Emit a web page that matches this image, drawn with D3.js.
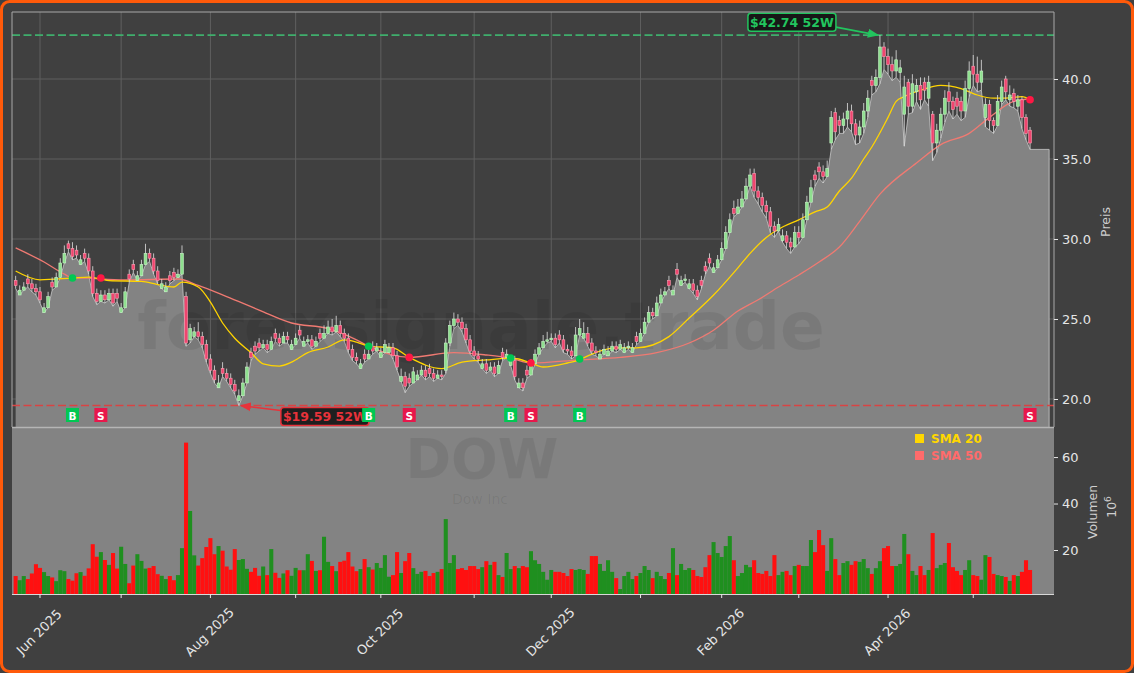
<!DOCTYPE html>
<html><head><meta charset="utf-8">
<script src="https://cdn.jsdelivr.net/npm/d3@7"></script>
<style>html,body{margin:0;padding:0;background:#404040;} svg{display:block;font-family:"DejaVu Sans",sans-serif;}</style>
</head><body><svg id="c" width="1134" height="673"></svg>
<script>
// ---------------- DATA ----------------
const startDate = "2025-05-22", endDate = "2026-05-21";
const holidays = ["2025-05-26","2025-06-19","2025-07-04","2025-09-01","2025-11-27","2025-12-25","2026-01-01","2026-01-19","2026-02-16","2026-04-03"];

const openP = [27.4,26.5,26.8,27.5,27.2,26.9,26.7,25.4,25.7,27.3,
27.0,27.6,28.5,29.7,29.4,29.3,28.4,29.1,28.8,28.0,
26.6,26.1,26.5,26.2,26.6,26.6,25.4,25.7,27.8,28.4,
27.4,27.7,28.4,29.1,28.8,28.0,26.9,26.7,27.7,27.9,
27.6,27.8,26.4,23.7,23.9,24.2,23.9,23.4,22.5,21.8,
20.7,21.9,21.6,21.3,20.9,19.9,20.2,21.0,22.9,23.3,
23.5,23.2,23.4,23.1,24.1,23.8,23.5,23.9,23.1,23.4,
24.3,23.3,23.6,23.7,23.3,24.1,23.8,24.1,24.5,24.2,
24.6,24.1,23.8,23.1,22.6,21.9,22.8,22.5,23.3,23.0,
22.6,22.9,22.9,23.2,22.7,21.1,21.4,21.3,21.0,21.2,
21.5,21.8,21.9,21.6,21.3,21.5,21.8,23.5,24.6,25.0,
24.8,24.4,23.7,23.0,22.7,21.9,22.2,21.8,22.0,21.6,
22.9,22.6,22.1,22.4,20.7,21.0,21.8,21.5,22.2,22.8,
23.2,23.6,23.7,23.8,24.0,23.7,23.1,23.0,22.7,24.0,
23.8,24.1,23.5,23.0,22.5,22.8,22.7,23.0,23.3,23.1,
22.9,23.2,22.9,23.9,23.6,24.1,24.8,25.4,25.2,26.0,
26.5,27.4,26.5,28.1,27.1,27.4,26.9,27.2,26.8,27.4,
28.3,28.8,27.9,28.2,28.7,29.4,30.4,31.9,31.6,32.0,
32.5,33.3,34.1,33.0,32.6,32.1,31.7,30.8,30.5,29.9,
30.2,29.8,29.5,30.4,30.1,31.2,32.3,34.0,34.5,34.2,
33.9,36.0,37.9,37.4,37.1,37.5,38.0,37.2,36.5,37.0,
38.0,39.9,39.6,40.1,42.0,41.4,40.9,40.5,40.4,37.8,
39.8,38.3,39.2,39.6,39.8,38.8,37.8,36.0,36.8,37.8,
39.2,38.6,38.8,38.6,38.0,39.4,40.8,40.3,39.8,37.6,
38.4,37.4,37.1,38.6,40.0,38.7,39.1,38.3,38.7,37.6,36.8];

const highP = [27.7,27.1,27.3,27.8,27.5,27.2,27.0,26.0,26.7,27.6,
27.9,28.8,29.6,29.9,29.8,29.6,29.0,29.4,29.1,28.3,
26.9,26.8,26.8,26.9,26.9,26.9,26.0,27.0,28.1,28.7,
28.0,28.7,29.7,29.4,29.1,28.3,27.5,27.3,28.0,28.2,
28.1,29.6,26.7,24.7,24.5,24.8,24.2,23.7,22.8,22.1,
21.5,22.3,21.9,21.6,21.2,20.6,21.3,22.3,23.2,23.6,
23.8,23.7,23.7,23.9,24.4,24.1,24.2,24.2,23.7,24.1,
24.6,23.9,24.0,24.0,23.9,24.4,24.6,24.9,25.0,25.2,
24.9,24.4,24.1,23.4,22.9,22.5,23.1,23.1,23.6,23.5,
23.2,23.7,23.5,23.5,23.0,21.9,21.7,21.6,22.0,21.8,
22.1,22.1,22.2,21.9,21.8,21.8,23.8,24.9,25.4,25.3,
25.1,24.7,24.0,23.3,23.0,22.5,22.5,22.3,22.3,22.4,
23.2,23.1,22.7,22.7,21.3,21.3,22.1,22.5,23.1,23.5,
24.0,24.2,24.1,24.1,24.3,24.0,23.4,23.3,24.5,25.0,
24.8,24.5,23.8,23.3,23.1,23.4,23.3,23.6,23.6,23.7,
23.5,23.6,23.5,24.2,24.4,25.1,25.8,25.7,26.4,26.9,
27.0,27.7,27.1,28.5,27.7,27.8,27.5,27.5,27.1,27.7,
28.6,29.1,28.5,29.0,29.8,30.8,31.6,32.4,32.5,33.0,
33.8,34.4,34.4,33.3,32.9,32.4,32.0,31.1,31.3,30.6,
30.5,30.1,30.8,30.8,31.6,32.7,33.7,34.3,34.8,34.6,
34.9,38.0,38.2,37.7,37.9,38.5,38.4,37.5,37.4,38.5,
39.3,40.2,40.6,42.74,42.3,41.9,41.4,41.8,41.2,40.2,
40.0,40.3,40.0,40.1,40.1,40.2,38.0,37.2,38.2,39.3,
39.8,38.9,39.2,38.9,39.9,41.1,41.5,41.4,41.2,38.8,
38.7,37.6,39.0,39.9,40.2,39.6,39.4,39.0,38.9,37.8,37.0];

const lowP = [26.9,26.5,26.8,27.0,26.7,26.5,26.0,25.4,25.7,26.8,
27.0,27.6,28.5,29.2,28.7,28.8,28.4,28.6,27.8,26.4,
25.9,26.1,26.0,26.2,25.8,26.1,25.4,25.7,27.3,27.9,
27.4,27.7,28.4,28.6,27.8,27.2,26.9,26.7,27.2,27.4,
27.6,27.8,23.3,23.5,23.9,23.7,23.2,22.3,21.6,21.0,
20.7,21.4,21.1,20.7,20.3,19.59,20.2,21.0,22.4,22.8,
23.0,23.2,22.9,23.1,23.6,23.3,23.5,23.5,23.1,23.4,
23.8,23.3,23.5,23.1,23.3,23.6,23.8,24.1,24.0,24.2,
23.9,23.6,22.9,22.4,22.2,21.9,22.3,22.5,22.8,23.0,
22.6,22.9,22.9,22.5,21.8,21.1,20.4,20.8,21.0,21.2,
21.5,21.2,21.4,21.1,21.3,21.2,21.6,23.3,24.4,24.6,
24.2,23.5,22.8,22.5,22.3,21.9,21.6,21.8,21.4,21.6,
22.4,22.6,22.1,21.2,20.7,20.5,21.3,21.5,22.2,22.8,
23.2,23.5,23.6,23.2,23.5,22.9,22.8,22.5,22.7,24.0,
23.8,23.3,22.8,22.7,22.5,22.8,22.7,23.0,22.9,23.1,
22.9,23.1,22.9,23.4,23.6,24.1,24.8,25.0,25.2,26.0,
26.5,26.9,26.5,27.6,27.1,27.3,26.9,26.6,26.2,26.9,
27.8,28.3,27.9,28.2,28.7,29.4,30.4,31.4,31.6,32.0,
32.5,33.3,32.6,32.2,31.7,31.3,30.4,30.1,30.5,29.8,
29.4,29.1,29.5,29.7,30.1,31.2,32.3,33.3,33.8,33.5,
33.9,35.6,36.2,36.6,36.6,37.0,36.7,35.9,36.0,36.6,
37.6,39.0,39.2,39.7,40.6,40.3,39.9,40.1,39.8,35.8,
37.8,37.9,38.6,38.1,38.7,38.3,34.9,35.4,36.3,37.3,
38.0,37.5,37.8,37.4,37.6,38.9,39.6,39.2,39.3,37.0,
36.8,36.6,37.1,38.4,38.7,38.3,38.2,38.0,36.9,36.2,35.6];

const closeP = [27.1,26.8,27.0,27.2,26.9,26.7,26.2,25.7,26.4,27.0,
27.6,28.5,29.1,29.4,28.9,29.0,28.7,28.8,28.0,26.6,
26.1,26.5,26.2,26.6,26.0,26.3,25.7,26.7,27.5,28.1,
27.7,28.4,29.1,28.8,28.0,27.4,27.2,27.0,27.4,27.6,
27.8,29.1,23.5,24.4,24.2,23.9,23.4,22.5,21.8,21.2,
21.0,21.6,21.3,20.9,20.5,20.2,21.0,22.0,22.6,23.0,
23.2,23.4,23.1,23.6,23.8,23.5,23.9,23.7,23.4,23.8,
24.0,23.6,23.7,23.3,23.6,23.8,24.1,24.5,24.2,24.6,
24.1,23.8,23.1,22.6,22.4,22.2,22.5,22.8,23.0,23.2,
22.9,23.4,23.2,22.7,22.0,21.4,20.8,21.0,21.7,21.5,
21.8,21.4,21.6,21.3,21.5,21.4,23.5,24.6,25.0,24.8,
24.4,23.7,23.0,22.7,22.5,22.2,21.8,22.0,21.6,22.1,
22.6,22.8,22.4,21.4,21.0,20.7,21.5,22.2,22.8,23.2,
23.6,23.7,23.8,23.4,23.7,23.1,23.0,22.7,24.0,24.4,
24.1,23.5,23.0,22.9,22.8,23.1,23.0,23.3,23.1,23.4,
23.2,23.3,23.2,23.6,24.1,24.8,25.4,25.2,26.0,26.5,
26.7,27.1,26.8,27.8,27.4,27.5,27.2,26.8,26.4,27.1,
28.0,28.5,28.2,28.7,29.4,30.4,31.2,31.6,32.0,32.5,
33.3,34.0,33.0,32.6,32.1,31.7,30.8,30.5,30.9,30.2,
29.8,29.5,30.4,30.1,31.2,32.3,33.2,33.7,34.2,33.9,
34.4,37.6,36.7,37.1,37.5,38.0,37.2,36.5,37.0,38.0,
38.8,39.6,40.1,42.0,41.4,40.9,40.5,41.2,40.7,39.5,
38.3,39.7,39.6,38.7,39.3,39.8,36.0,36.8,37.8,38.8,
38.6,38.1,38.3,38.0,39.4,40.5,40.3,39.8,40.5,38.4,
37.4,37.1,38.6,39.5,39.2,39.0,38.6,38.7,37.6,36.6,36.0];

const volumeM = [8.8,7.0,8.8,7.5,9.9,13.9,12.3,10.5,8.8,8.2,
6.6,11.3,10.9,7.5,6.8,10.0,10.5,8.9,12.1,22.5,
17.1,19.1,15.7,13.6,18.7,12.0,21.4,14.0,5.7,13.3,
18.2,15.3,12.0,12.3,13.1,9.6,8.9,7.5,8.8,7.0,
9.2,20.8,66.2,36.8,17.7,13.3,16.5,21.3,25.1,18.2,
21.7,19.7,12.9,11.5,20.4,15.7,16.1,11.9,10.6,12.3,
8.9,12.9,9.2,20.4,10.2,8.0,9.9,11.3,8.9,12.3,
11.3,11.3,18.2,15.3,11.0,11.3,25.7,14.9,13.1,10.9,
14.9,15.4,19.1,12.9,10.9,11.8,16.1,12.6,11.6,14.4,
12.3,17.8,8.5,9.2,19.1,10.1,15.2,18.7,12.2,9.7,
10.6,11.0,8.8,10.1,10.6,11.8,33.3,14.4,17.8,11.8,
12.2,11.4,13.1,13.1,11.8,12.6,15.2,13.6,14.9,9.2,
8.4,18.7,11.8,13.1,12.2,13.1,12.6,19.5,15.6,14.0,
10.6,7.2,11.4,10.6,10.6,10.1,8.8,11.8,11.4,11.8,
11.4,9.7,17.4,17.4,14.0,11.0,15.6,10.6,7.9,3.2,
8.8,10.6,7.5,8.8,10.1,13.1,11.4,7.9,10.6,8.8,
7.5,10.1,20.8,9.2,14.0,11.4,12.2,11.4,8.8,8.4,
12.6,17.8,23.4,18.7,17.0,21.7,26.0,15.6,8.8,10.1,
13.6,12.6,15.6,10.1,9.7,11.0,8.8,17.8,9.2,10.6,
11.0,9.2,13.1,13.6,13.1,13.1,24.3,19.1,28.6,22.1,
11.0,25.1,16.1,9.2,14.4,15.2,13.6,15.2,14.9,16.1,
12.2,9.7,12.2,15.2,20.8,21.7,13.1,13.1,14.0,26.9,
18.2,11.0,9.2,13.1,9.2,11.4,27.3,12.2,13.6,14.4,
23.0,12.6,11.0,9.2,11.4,15.6,9.2,8.8,7.2,17.8,
17.0,9.7,9.2,8.8,8.4,6.7,9.2,8.8,10.6,15.6,11.4];

// moving averages at these bar indices
const sma20Idx = [0,6,14,18,21,23,31,35,39,41,45,48,51,54,58,61,65,68,72,77,81,84,87,93,97,105,110,116,122,124,127,130,136,139,141,148,153,161,166,172,178,181,185,189,193,197,200,203,206,209,211,215,217,219,223,228,233,237,241,244,248,250];
const sma20Val = [28.0,27.45,27.56,27.62,27.5,27.4,27.35,27.15,27.0,27.3,27.0,26.06,24.75,23.8,22.9,22.2,22.06,22.3,22.9,23.25,23.7,23.56,23.3,23.2,22.6,21.9,22.3,22.44,22.55,22.5,22.25,22.0,22.25,22.45,22.7,23.2,23.2,23.9,25.06,26.5,28.2,29.1,30.1,30.75,31.2,31.7,32.0,33.0,33.8,35.0,35.75,37.6,38.6,38.9,39.3,39.6,39.4,39.0,38.8,38.8,38.9,38.7];
const sma50Idx = [0,7,12,14,18,21,27,40,45,52,60,68,77,84,87,97,108,116,122,127,139,149,158,166,172,178,183,188,193,198,203,208,213,222,228,235,240,246,250];
const sma50Val = [29.44,28.56,27.8,27.56,27.56,27.5,27.44,27.5,27.1,26.4,25.56,24.75,24.4,23.7,23.3,22.6,22.9,22.75,22.55,22.25,22.45,22.6,22.9,23.5,24.3,25.5,26.2,27.0,27.75,28.56,29.5,31.1,32.8,34.75,35.9,36.6,37.6,38.6,38.75];

// crossover signals
const signalIdx = [14,21,87,97,122,127,139,250];
const signalType = ["B","S","B","S","B","S","B","S"];
const signalPrice = [27.56,27.56,23.3,22.6,22.56,22.25,22.5,38.7];

const priceTicks = [20,25,30,35,40];
const volumeTicks = [20,40,60];

// ---------------- LAYOUT ----------------
const svg = d3.select("#c");
const W = 1134, H = 673;
const L = 12, R = 1054, PT = 12, PB = 427, VT = 428, VB = 594;
const AREA_EXT = 4.7; // fill continues past the last bar

const parse = d3.utcParse("%Y-%m-%d"), fmt = d3.utcFormat("%Y-%m-%d");
const dates = d3.utcDay.range(parse(startDate), d3.utcDay.offset(parse(endDate), 1))
  .filter(d => d.getUTCDay() % 6 !== 0 && !holidays.includes(fmt(d)));
const n = dates.length;
const bars = dates.map((d, i) => ({i, d, o: openP[i], h: highP[i], l: lowP[i], c: closeP[i], v: volumeM[i]}));

const x = d3.scaleLinear().domain([-0.9, 255.9]).range([L, R]);
const y = d3.scaleLinear().domain([18.25, 44.1875]).range([PB, PT]);
const yv = d3.scaleLinear().domain([1.07, 72.5]).range([VB, VT]);

const defs = svg.append("defs");
defs.append("clipPath").attr("id", "cp").append("rect").attr("x", L).attr("y", PT).attr("width", R - L).attr("height", PB - PT);
defs.append("clipPath").attr("id", "cv").append("rect").attr("x", L).attr("y", VT).attr("width", R - L).attr("height", VB - VT);
function arrow(id, col) {
  defs.append("marker").attr("id", id).attr("viewBox", "0 0 10 10").attr("refX", 9).attr("refY", 5)
    .attr("markerWidth", 7).attr("markerHeight", 7).attr("orient", "auto-start-reverse")
    .append("path").attr("d", "M0,1 L10,5 L0,9 z").attr("fill", col);
}
arrow("ag", "#22c55e"); arrow("ar", "#e8323a");

// figure background + border
svg.append("rect").attr("x", 0).attr("y", 0).attr("width", W).attr("height", H).attr("fill", "#404040");
svg.append("rect").attr("x", 1.5).attr("y", 1.5).attr("width", W - 3).attr("height", H - 3).attr("rx", 8)
  .attr("fill", "none").attr("stroke", "#ff5a0a").attr("stroke-width", 3);

// month ticks
const monthIdx = bars.filter((b, i) => i > 0 && b.d.getUTCMonth() !== bars[i - 1].d.getUTCMonth()).map(b => b.i);

// ---------------- PRICE PANEL ----------------
const gp = svg.append("g").attr("clip-path", "url(#cp)");
gp.selectAll("line.vg").data(monthIdx).join("line").attr("class", "vg")
  .attr("x1", d => x(d)).attr("x2", d => x(d)).attr("y1", PT).attr("y2", PB).attr("stroke", "#5f5f5f").attr("stroke-width", 1);
gp.selectAll("line.hg").data(priceTicks).join("line").attr("class", "hg")
  .attr("x1", L).attr("x2", R).attr("y1", d => y(d)).attr("y2", d => y(d)).attr("stroke", "#5f5f5f").attr("stroke-width", 1);

// area under the lows
const areaPts = bars.map(b => [b.i, b.l]).concat([[n - 1 + AREA_EXT, lowP[n - 1]]]);
gp.append("path").datum(areaPts)
  .attr("d", d3.area().x(d => x(d[0])).y0(PB).y1(d => y(d[1])))
  .attr("fill", "#838383");
gp.append("path").datum(areaPts.concat([[n - 1 + AREA_EXT, 18.25]]))
  .attr("d", d3.line().x(d => x(d[0])).y(d => y(d[1])))
  .attr("fill", "none").attr("stroke", "#cfcfcf").attr("stroke-width", 1).attr("stroke-opacity", 0.75);

// watermark
gp.append("text").attr("x", 481).attr("y", 349).attr("text-anchor", "middle")
  .attr("font-size", 66).attr("font-weight", "bold").attr("fill", "#000").attr("fill-opacity", 0.07)
  .text("forexsignale.trade");

// 52W lines
const hi = d3.max(highP), lo = d3.min(lowP);
const hiI = highP.indexOf(hi), loI = lowP.indexOf(lo);
gp.append("line").attr("x1", L).attr("x2", R).attr("y1", y(hi)).attr("y2", y(hi))
  .attr("stroke", "#3fae6c").attr("stroke-width", 1.6).attr("stroke-dasharray", "8,3.5");
gp.append("line").attr("x1", L).attr("x2", R).attr("y1", y(lo)).attr("y2", y(lo))
  .attr("stroke", "#d94343").attr("stroke-width", 1.6).attr("stroke-dasharray", "8,3.5");

// SMA lines
const smaLine = d3.line().x(d => x(d[0])).y(d => y(d[1])).curve(d3.curveMonotoneX);
gp.append("path").datum(sma50Idx.map((k, j) => [k, sma50Val[j]])).attr("d", smaLine)
  .attr("fill", "none").attr("stroke", "#f07a72").attr("stroke-width", 1.3);
gp.append("path").datum(sma20Idx.map((k, j) => [k, sma20Val[j]])).attr("d", smaLine)
  .attr("fill", "none").attr("stroke", "#ffd400").attr("stroke-width", 1.3);

// candles
const cw = 2.8;
const cg = gp.append("g");
cg.selectAll("line.w").data(bars).join("line").attr("class", "w")
  .attr("x1", b => x(b.i)).attr("x2", b => x(b.i)).attr("y1", b => y(b.h)).attr("y2", b => y(b.l))
  .attr("stroke", "#d8d8d8").attr("stroke-width", 1).attr("stroke-opacity", 0.85);
cg.selectAll("rect.b").data(bars).join("rect").attr("class", "b")
  .attr("x", b => x(b.i) - cw / 2).attr("width", cw)
  .attr("y", b => y(Math.max(b.o, b.c))).attr("height", b => Math.max(1, Math.abs(y(b.o) - y(b.c))))
  .attr("fill", b => b.c >= b.o ? "#8fe08f" : "#f0456f")
  .attr("stroke", b => b.c >= b.o ? "#c8f5c8" : "#ff9ab0").attr("stroke-width", 0.6);

// crossover dots + markers
const sig = signalIdx.map((k, j) => ({k, t: signalType[j], p: signalPrice[j]}));
gp.selectAll("circle.sd").data(sig).join("circle").attr("class", "sd")
  .attr("cx", s => x(s.k)).attr("cy", s => y(s.p)).attr("r", 3.8)
  .attr("fill", s => s.t === "B" ? "#00c853" : "#ff1744");

// annotations
function annot(i, v, dx, dy, txt, col, bw) {
  const px = x(i), py = y(v), cx = px + dx, cy = py + dy;
  const g = svg.append("g");
  const sx = dx < 0 ? cx + bw / 2 : cx - bw / 2;
  g.append("line").attr("x1", sx).attr("y1", cy + (dy < 0 ? 5 : -6)).attr("x2", px + (dx < 0 ? -2 : 2)).attr("y2", py)
    .attr("stroke", col).attr("stroke-width", 1.6).attr("marker-end", `url(#${col === "#22c55e" ? "ag" : "ar"})`);
  g.append("rect").attr("x", cx - bw / 2).attr("y", cy - 9).attr("width", bw).attr("height", 18).attr("rx", 3)
    .attr("fill", "#111").attr("fill-opacity", 0.88).attr("stroke", col).attr("stroke-width", 1.5);
  g.append("text").attr("x", cx).attr("y", cy + 4.5).attr("text-anchor", "middle").attr("font-size", 12.5)
    .attr("font-weight", "bold").attr("fill", col).text(txt);
}
annot(hiI, hi, -88, -13, `$${hi.toFixed(2)} 52W`, "#22c55e", 88);
annot(loI, lo, 86, 11, `$${lo.toFixed(2)} 52W`, "#e8323a", 88);

const mk = svg.append("g");
mk.selectAll("rect").data(sig).join("rect")
  .attr("x", s => x(s.k) - 6.5).attr("y", 408).attr("width", 13).attr("height", 14)
  .attr("fill", s => s.t === "B" ? "#00c853" : "#e8174b");
mk.selectAll("text").data(sig).join("text")
  .attr("x", s => x(s.k)).attr("y", 419.5).attr("text-anchor", "middle").attr("font-size", 10.5)
  .attr("font-weight", "bold").attr("fill", "#fff").text(s => s.t);

// price spines
svg.append("path").attr("d", `M${L},${PB} V${PT} H${R} V${PB}`).attr("fill", "none").attr("stroke", "#a8a8a8").attr("stroke-width", 1);

// price axis
const ax = svg.append("g").attr("transform", `translate(${R},0)`)
  .call(d3.axisRight(y).tickValues(priceTicks).tickFormat(d3.format(".1f")).tickSize(4).tickPadding(4));
ax.select(".domain").remove();
ax.selectAll("line").attr("stroke", "#e6e6e6");
ax.selectAll("text").attr("fill", "#e6e6e6").attr("font-size", 13).attr("font-family", "DejaVu Sans");
svg.append("text").attr("transform", "translate(1110,222) rotate(-90)").attr("text-anchor", "middle")
  .attr("font-size", 12.5).attr("fill", "#cfcfcf").text("Preis");

// ---------------- VOLUME PANEL ----------------
svg.append("rect").attr("x", L).attr("y", VT).attr("width", R - L).attr("height", VB - VT).attr("fill", "#838383");
svg.append("line").attr("x1", L).attr("x2", R).attr("y1", PB + 0.5).attr("y2", PB + 0.5).attr("stroke", "#b5b5b5").attr("stroke-width", 1.5);
const gv = svg.append("g").attr("clip-path", "url(#cv)");
gv.append("text").attr("x", 482).attr("y", 478).attr("text-anchor", "middle").attr("font-size", 55)
  .attr("font-weight", "bold").attr("fill", "#000").attr("fill-opacity", 0.07).text("DOW");
gv.append("text").attr("x", 480).attr("y", 504).attr("text-anchor", "middle").attr("font-size", 14)
  .attr("fill", "#000").attr("fill-opacity", 0.07).text("Dow Inc");
const vw = 4.06;
gv.selectAll("rect.v").data(bars).join("rect").attr("class", "v")
  .attr("x", b => x(b.i) - vw / 2).attr("width", vw)
  .attr("y", b => yv(b.v)).attr("height", b => VB - yv(b.v))
  .attr("fill", b => b.c >= b.o ? "#1f8f1f" : "#ff1010");

// legend
const leg = svg.append("g");
[["SMA 20", "#ffd700"], ["SMA 50", "#ff6b6b"]].forEach((e, j) => {
  leg.append("rect").attr("x", 915).attr("y", 434 + j * 17).attr("width", 9).attr("height", 9).attr("fill", e[1]);
  leg.append("text").attr("x", 931).attr("y", 442.5 + j * 17).attr("font-size", 12).attr("font-weight", "bold")
    .attr("fill", e[1]).text(e[0]);
});

// volume axis
const vax = svg.append("g").attr("transform", `translate(${R},0)`)
  .call(d3.axisRight(yv).tickValues(volumeTicks).tickFormat(d3.format("d")).tickSize(4).tickPadding(4));
vax.select(".domain").remove();
vax.selectAll("line").attr("stroke", "#e6e6e6");
vax.selectAll("text").attr("fill", "#e6e6e6").attr("font-size", 13).attr("font-family", "DejaVu Sans");
svg.append("text").attr("transform", "translate(1097,512) rotate(-90)").attr("text-anchor", "middle")
  .attr("font-size", 12.5).attr("fill", "#cfcfcf").text("Volumen");
const t6 = svg.append("text").attr("transform", "translate(1116,507) rotate(-90)").attr("text-anchor", "middle")
  .attr("font-size", 12.5).attr("fill", "#cfcfcf");
t6.append("tspan").text("10");
t6.append("tspan").attr("font-size", 9).attr("dy", -5).text("6");

// x axis
svg.append("line").attr("x1", L).attr("x2", R).attr("y1", VB + 0.5).attr("y2", VB + 0.5).attr("stroke", "#d8d8d8").attr("stroke-width", 1.2);
svg.selectAll("line.xt").data(monthIdx).join("line").attr("class", "xt")
  .attr("x1", d => x(d)).attr("x2", d => x(d)).attr("y1", VB).attr("y2", VB + 4).attr("stroke", "#e6e6e6");
const labFmt = d3.utcFormat("%b %Y");
svg.selectAll("text.xl").data(monthIdx.filter(k => dates[k].getUTCMonth() % 2 === 1)).join("text").attr("class", "xl")
  .attr("transform", k => `translate(${x(k) - 1},${632}) rotate(-45)`).attr("text-anchor", "middle")
  .attr("dy", "0.35em").attr("font-size", 13).attr("fill", "#e6e6e6").text(k => labFmt(dates[k]));
</script></body></html>
